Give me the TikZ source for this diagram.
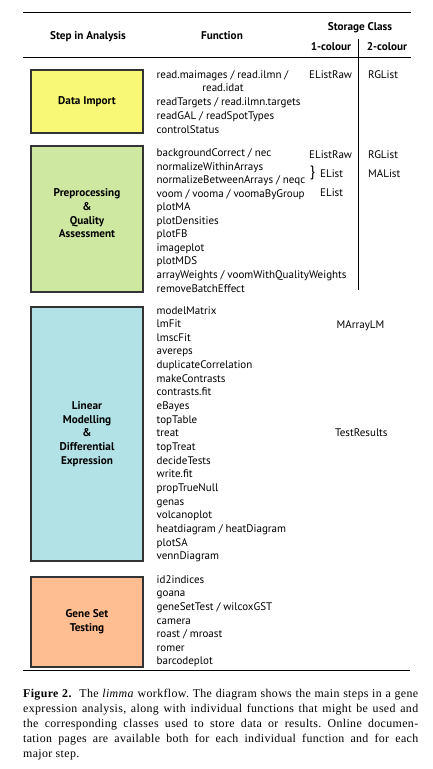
\documentclass[tikz,border=0pt]{standalone}
\usepackage{fontspec}
\setmainfont{Liberation Serif}
\setsansfont{PT Sans}
\newfontfamily\captionfont[LetterSpace=3]{Liberation Serif}
\usepackage{xcolor}
\usepackage{tikz}
\usetikzlibrary{positioning,calc}

\definecolor{importyellow}{RGB}{248,248,118}
\definecolor{prepgreen}{RGB}{206,232,162}
\definecolor{modelcyan}{RGB}{178,226,230}
\definecolor{gsorange}{RGB}{255,190,145}

\tikzset{
  stepbox/.style={draw=black!80, line width=1.1pt, minimum width=112pt, inner sep=0pt},
  steplabel/.style={font=\sffamily\bfseries\fontsize{11.2}{13.7}\selectfont, align=center, inner sep=0pt},
  hdr/.style={font=\sffamily\bfseries\fontsize{11.2}{12}\selectfont, anchor=base, inner sep=0pt},
  fn/.style={font=\sffamily\fontsize{11}{12}\selectfont, anchor=base west, inner sep=0pt},
  cls/.style={fn}
}

\begin{document}
\begin{tikzpicture}[x=1pt,y=-1pt]
\useasboundingbox (0,0) rectangle (433,769);

% header
\draw[line width=0.8pt] (23,12) -- (411,12);
\draw[line width=0.8pt] (23,57.5) -- (411,57.5);
\draw[line width=0.8pt] (358,39) -- (358,290);
\node[hdr] (hstep) at (88,39) {Step in Analysis};
\node[hdr] (hfun) at (222,39) {Function};
\node[hdr] (hstore) at (360,30) {Storage Class};
\node[hdr] (hone) at (331,50) {1-colour};
\node[hdr] (htwo) at (387,50) {2-colour};

% Data Import
\node[stepbox, fill=importyellow, minimum height=63pt] (import) at (87,101.5) {};
\node[steplabel] (importlabel) at (import.center) {Data Import};
\node[fn] (imp0) at (156.5,78) {read.maimages / read.ilmn /};
\node[fn, anchor=base] (imp1) at (223,91.85) {read.idat};
\foreach \f [count=\i from 2] in {readTargets / read.ilmn.targets, readGAL / readSpotTypes, controlStatus}
  \node[fn] (imp\i) at (156.5,78+13.85*\i) {\f};
\node[cls] (impone) at (309,78) {EListRaw};
\node[cls] (imptwo) at (368,78) {RGList};

% Preprocessing
\node[stepbox, fill=prepgreen, minimum height=146pt] (prep) at (87,219) {};
\node[steplabel] (preplabel) at ($(prep.center)+(0,-5.5)$) {Preprocessing\\\&\\Quality\\Assessment};
\foreach \f [count=\i from 0] in {backgroundCorrect / nec, normalizeWithinArrays, normalizeBetweenArrays / neqc, voom / vooma / voomaByGroup, plotMA, plotDensities, plotFB, imageplot, plotMDS, arrayWeights / voomWithQualityWeights, removeBatchEffect}
  \node[fn] (prep\i) at (156.5,156.7+13.53*\i) {\f};
\node[cls] (prepone) at (309,158) {EListRaw};
\node[cls] (preptwo) at (368,158) {RGList};
\node[fn, anchor=center, font=\sffamily\fontsize{15}{15}\selectfont] (prepbrace) at (312.5,173) {\}};
\node[cls] (prepelist) at (320,177.3) {EList};
\node[cls] (prepma) at (368,177.3) {MAList};
\node[cls] (prepvoom) at (320,196.3) {EList};

% Linear Modelling
\node[stepbox, fill=modelcyan, minimum height=254pt] (model) at (87,434) {};
\node[steplabel] (modellabel) at (model.center) {Linear\\Modelling\\\&\\Differential\\Expression};
\foreach \f [count=\i from 0] in {modelMatrix, lmFit, lmscFit, avereps, duplicateCorrelation, makeContrasts, contrasts.fit, eBayes, topTable, treat, topTreat, decideTests, write.fit, propTrueNull, genas, volcanoplot, heatdiagram / heatDiagram, plotSA, vennDiagram}
  \node[fn] (model\i) at (156.5,314+13.65*\i) {\f};
\node[cls] (modelfit) at (336.5,328.3) {MArrayLM};
\node[cls] (modeltest) at (335,436.3) {TestResults};

% Gene Set Testing
\node[stepbox, fill=gsorange, minimum height=90pt] (geneset) at (87,622) {};
\node[steplabel] (genesetlabel) at (geneset.center) {Gene Set\\Testing};
\foreach \f [count=\i from 0] in {id2indices, goana, geneSetTest / wilcoxGST, camera, roast / mroast, romer, barcodeplot}
  \node[fn] (gs\i) at (156.5,583.3+13.6*\i) {\f};

\draw[line width=0.8pt] (23,670.5) -- (410,670.5);

% caption
\node[anchor=north west, inner sep=0pt, text width=395pt, align=justify,
      font=\captionfont\fontsize{11.9}{15}\selectfont] (caption) at (23,688.5)
  {\frenchspacing\textbf{Figure 2.}\ \ The \textit{limma} workflow. The diagram shows the main steps in a gene\linebreak
   expression analysis, along with individual functions that might be used and\linebreak
   the corresponding classes used to store data or results. Online documen-\linebreak
   tation pages are available both for each individual function and for each\linebreak
   major step.};
\end{tikzpicture}
\end{document}
